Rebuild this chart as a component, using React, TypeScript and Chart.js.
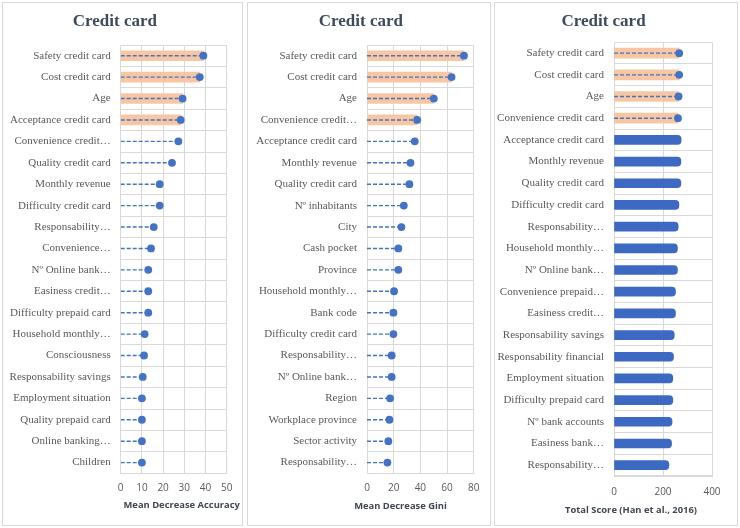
import React, { useEffect, useRef } from "react";
import { Chart, registerables } from "chart.js";

Chart.register(...registerables);

// ---------- DATA ----------
const titleText = "Credit card";
const highlightCount = 4;

const accLabels = [
  "Safety credit card", "Cost credit card", "Age", "Acceptance credit card",
  "Convenience credit…", "Quality credit card", "Monthly revenue", "Difficulty credit card",
  "Responsability…", "Convenience…", "Nº Online bank…", "Easiness credit…",
  "Difficulty prepaid card", "Household monthly…", "Consciousness", "Responsability savings",
  "Employment situation", "Quality prepaid card", "Online banking…", "Children",
];
const accValues = [39, 37.3, 29.2, 28.3, 27.2, 24.2, 18.4, 18.4, 15.6, 14.3, 13, 13, 13, 11.3, 11, 10.4, 10, 10, 10, 10];
const accTicks = { min: 0, max: 50, step: 10 };
const accAxisTitle = "Mean Decrease Accuracy";

const giniLabels = [
  "Safety credit card", "Cost credit card", "Age", "Convenience credit…",
  "Acceptance credit card", "Monthly revenue", "Quality credit card", "Nº inhabitants",
  "City", "Cash pocket", "Province", "Household monthly…",
  "Bank code", "Difficulty credit card", "Responsability…", "Nº Online bank…",
  "Region", "Workplace province", "Sector activity", "Responsability…",
];
const giniValues = [72.7, 63.4, 50.1, 37.6, 35.8, 32.6, 31.8, 27.6, 25.8, 23.5, 23.5, 20.3, 19.8, 19.8, 18.5, 18.5, 17.3, 16.8, 16, 15.3];
const giniTicks = { min: 0, max: 80, step: 20 };
const giniAxisTitle = "Mean Decrease Gini";

const scoreLabels = [
  "Safety credit card", "Cost credit card", "Age", "Convenience credit card",
  "Acceptance credit card", "Monthly revenue", "Quality credit card", "Difficulty credit card",
  "Responsability…", "Household monthly…", "Nº Online bank…", "Convenience prepaid…",
  "Easiness credit…", "Responsability savings", "Responsability financial", "Employment situation",
  "Difficulty prepaid card", "Nº bank accounts", "Easiness bank…", "Responsability…",
];
const scoreValues = [266, 266, 263.5, 261, 274, 273, 273, 265, 262, 259, 259, 251, 251, 246, 243, 240, 240, 237, 235, 224];
const scoreTicks = { min: 0, max: 400, step: 200 };
const scoreAxisTitle = "Total Score (Han et al., 2016)";

// ---------- STYLE ----------
const BLUE = "#4472C4";
const BLUE_BAR = "#3D69C3";
const ORANGE = "#F7C7A4";
const GRID = "#D9D9D9";
const LABEL_COLOR = "#595959";
const TITLE_COLOR = "#3E4B5E";

type Panel = {
  left: number; width: number;
  labels: string[]; values: number[];
  ticks: { min: number; max: number; step: number };
  axisTitle: string;
  lollipopAll: boolean;
  plotLeft: number; plotRight: number; plotTop: number; plotBottom: number;
  tickPad: number; axisTitleX: number; axisTitleY: number;
};

const PANEL_TOP = 2;
const PANEL_H = 524;

const panels: Panel[] = [
  {
    left: 2, width: 241, labels: accLabels, values: accValues, ticks: accTicks, axisTitle: accAxisTitle,
    lollipopAll: true, plotLeft: 117.7, plotRight: 223.7, plotTop: 42, plotBottom: 470.3,
    tickPad: 9, axisTitleX: 178.7, axisTitleY: 502,
  },
  {
    left: 247, width: 244, labels: giniLabels, values: giniValues, ticks: giniTicks, axisTitle: giniAxisTitle,
    lollipopAll: true, plotLeft: 119, plotRight: 225.7, plotTop: 42, plotBottom: 470.3,
    tickPad: 9, axisTitleX: 152.5, axisTitleY: 503.7,
  },
  {
    left: 494, width: 244, labels: scoreLabels, values: scoreValues, ticks: scoreTicks, axisTitle: scoreAxisTitle,
    lollipopAll: false, plotLeft: 119, plotRight: 217, plotTop: 39.3, plotBottom: 473,
    tickPad: 10, axisTitleX: 136, axisTitleY: 507.7,
  },
];

const axisTitlePlugin = {
  id: "fixedAxisTitle",
  afterDraw(chart: any, _args: any, opts: any) {
    const ctx = chart.ctx;
    ctx.save();
    ctx.font = opts.font;
    ctx.fillStyle = opts.color;
    ctx.textAlign = "center";
    ctx.textBaseline = "middle";
    ctx.fillText(opts.text, opts.x, opts.y);
    ctx.restore();
  },
};

function buildConfig(p: Panel, cw: number, ch: number): any {
  const dotValues = p.values.map((v, i) => (p.lollipopAll || i < highlightCount ? v : null));
  const datasets: any[] = [];
  datasets.push({
    type: "bar",
    data: p.values.map((v, i) => (i < highlightCount ? v : null)),
    backgroundColor: ORANGE,
    barThickness: 10,
    grouped: false,
    order: 5,
  });
  if (!p.lollipopAll) {
    datasets.push({
      type: "bar",
      data: p.values.map((v, i) => (i < highlightCount ? null : v)),
      backgroundColor: BLUE_BAR,
      barThickness: 9,
      borderRadius: 4,
      grouped: false,
      order: 4,
    });
  }
  dotValues.forEach((v, i) => {
    if (v == null) return;
    datasets.push({
      type: "line",
      parsing: false,
      data: [{ x: 0, y: i }, { x: v, y: i }],
      borderColor: BLUE,
      borderWidth: 1.4,
      borderDash: [4, 2],
      pointRadius: 0,
      order: 2,
    });
  });
  datasets.push({
    type: "line",
    data: dotValues,
    showLine: false,
    pointRadius: 3.9,
    pointBackgroundColor: BLUE,
    pointBorderColor: BLUE,
    pointBorderWidth: 0,
    order: 1,
  });

  const xAxisHeight = 40;
  const titleLine = 17 * 1.2;
  const titleTop = 8;

  return {
    type: "bar",
    data: { labels: p.labels, datasets },
    plugins: [axisTitlePlugin],
    options: {
      indexAxis: "y",
      animation: false,
      responsive: false,
      devicePixelRatio: 1,
      layout: {
        padding: { left: 0, right: cw - p.plotRight, top: 0, bottom: ch - p.plotBottom - xAxisHeight },
      },
      plugins: {
        legend: { display: false },
        tooltip: { enabled: false },
        title: {
          display: true,
          text: titleText,
          color: TITLE_COLOR,
          font: { family: "Liberation Serif", size: 17, weight: "bold", lineHeight: 1.2 },
          padding: { top: titleTop, bottom: p.plotTop - titleTop - titleLine },
        },
        fixedAxisTitle: {
          text: p.axisTitle,
          x: p.axisTitleX,
          y: p.axisTitleY,
          font: "bold 9.4px 'Open Sans'",
          color: "#404652",
        },
      },
      scales: {
        y: {
          type: "category",
          grid: { color: GRID, offset: true, drawTicks: false },
          border: { color: GRID },
          ticks: {
            autoSkip: false,
            padding: 10,
            color: LABEL_COLOR,
            font: { family: "Liberation Serif", size: 11 },
          },
          afterFit: (s: any) => { s.width = p.plotLeft; },
        },
        x: {
          type: "linear",
          min: p.ticks.min,
          max: p.ticks.max,
          grid: { color: GRID, drawTicks: false },
          border: { color: GRID },
          ticks: {
            stepSize: p.ticks.step,
            padding: p.tickPad,
            color: LABEL_COLOR,
            font: { family: "Open Sans", size: 10 },
            maxRotation: 0,
          },
          afterFit: (s: any) => { s.height = xAxisHeight; },
        },
      },
    },
  };
}

function PanelChart({ p }: { p: Panel }) {
  const ref = useRef<HTMLCanvasElement | null>(null);
  const cw = p.width - 2;
  const ch = PANEL_H - 2;
  useEffect(() => {
    if (!ref.current) return;
    const chart = new Chart(ref.current, buildConfig(p, cw, ch));
    return () => chart.destroy();
  }, []);
  return (
    <div
      style={{
        position: "absolute",
        left: p.left,
        top: PANEL_TOP,
        width: p.width,
        height: PANEL_H,
        border: "1px solid #D9D9D9",
        boxSizing: "border-box",
        background: "#FFFFFF",
      }}
    >
      <canvas ref={ref} width={cw} height={ch} style={{ display: "block", width: cw, height: ch }} />
    </div>
  );
}

export default function App() {
  return (
    <div style={{ position: "fixed", left: 0, top: 0, width: 740, height: 528, background: "#FFFFFF", overflow: "hidden" }}>
      {panels.map((p, i) => (
        <PanelChart key={i} p={p} />
      ))}
    </div>
  );
}
